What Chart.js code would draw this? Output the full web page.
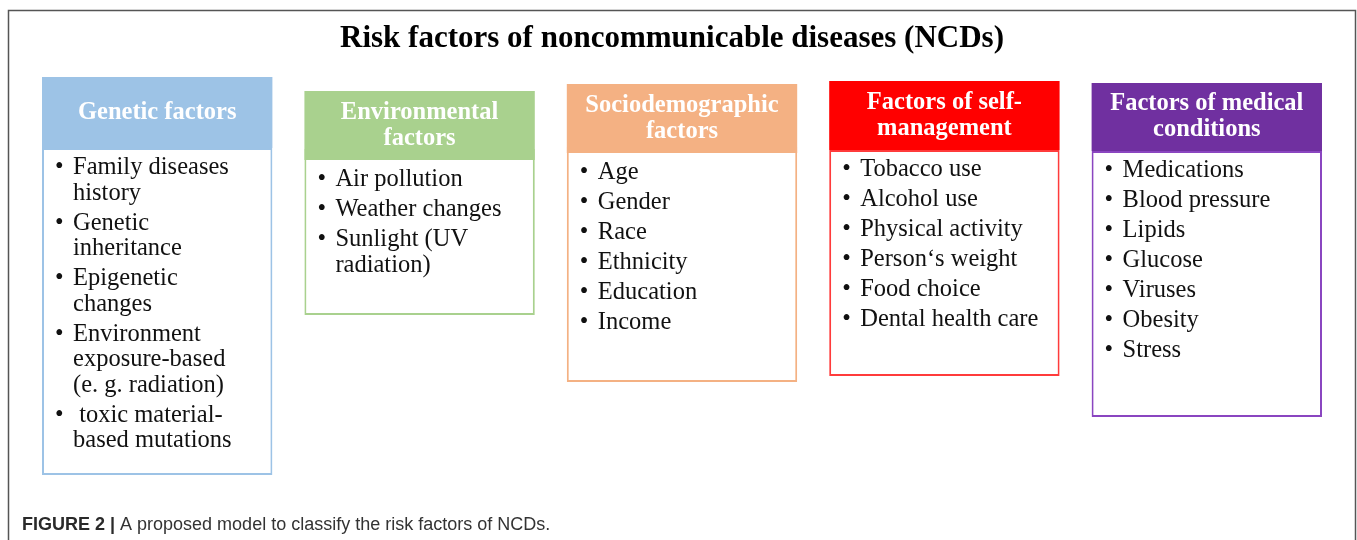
<!DOCTYPE html>
<html>
<head>
<meta charset="utf-8">
<script src="https://cdn.jsdelivr.net/npm/chart.js@4.4.1/dist/chart.umd.min.js"></script>
<style>
  html, body { margin: 0; padding: 0; background: #ffffff; }
  #wrap { width: 1357px; height: 540px; position: relative; }
  canvas { display: block; }
</style>
</head>
<body>
<div id="wrap"><canvas id="c" width="1357" height="540"></canvas></div>
<script>
// ---- Diagram content (data) ----
const titleText = 'Risk factors of noncommunicable diseases (NCDs)';
const captionBold = 'FIGURE 2 |';
const captionText = ' A proposed model to classify the risk factors of NCDs.';

const categories = ['Genetic factors', 'Environmental factors', 'Sociodemographic factors',
                    'Factors of self-management', 'Factors of medical conditions'];

const headerLines = [
  ['Genetic factors'],
  ['Environmental', 'factors'],
  ['Sociodemographic', 'factors'],
  ['Factors of self-', 'management'],
  ['Factors of medical', 'conditions']
];

const geneticItems = [
  ['Family diseases', 'history'],
  ['Genetic', 'inheritance'],
  ['Epigenetic', 'changes'],
  ['Environment', 'exposure-based', '(e. g. radiation)'],
  [' toxic material-', 'based mutations']
];
const environmentalItems = [
  ['Air pollution'],
  ['Weather changes'],
  ['Sunlight (UV', 'radiation)']
];
const sociodemographicItems = [
  ['Age'], ['Gender'], ['Race'], ['Ethnicity'], ['Education'], ['Income']
];
const selfManagementItems = [
  ['Tobacco use'], ['Alcohol use'], ['Physical activity'],
  ['Person\u2018s weight'], ['Food choice'], ['Dental health care']
];
const medicalItems = [
  ['Medications'], ['Blood pressure'], ['Lipids'], ['Glucose'],
  ['Viruses'], ['Obesity'], ['Stress']
];
const itemLists = [geneticItems, environmentalItems, sociodemographicItems,
                   selfManagementItems, medicalItems];

// vertical extents of the boxes, in diagram units (0 = top, 540 = bottom)
const headerTop    = [77, 91, 84, 81, 83];
const headerBottom = [148, 160, 153, 150, 151];
const bodyTop      = [148, 149, 147, 150, 151];
const bodyBottom   = [475, 315, 382, 376, 417];

// ---- Styles ----
const headerColors = ['#9dc3e6', '#a9d18e', '#f4b183', '#ff0000', '#7030a0'];
const bodyBorderColors = ['#9dc3e6', '#a9d18e', '#f4b183', '#ff3b3b', '#8a45c0'];

const SERIF = "'Liberation Serif', 'Times New Roman', serif";
const SANS = "'Liberation Sans', Arial, sans-serif";

const textPlugin = {
  id: 'diagramText',
  beforeDraw(chart) {
    const ctx = chart.ctx;
    ctx.save();
    ctx.fillStyle = '#ffffff';
    ctx.fillRect(0, 0, chart.width, chart.height);
    // outer frame
    ctx.strokeStyle = '#555555';
    ctx.lineWidth = 1.5;
    ctx.strokeRect(8.5, 10.5, 1347, 620);
    ctx.restore();
  },
  afterDatasetsDraw(chart) {
    const ctx = chart.ctx;
    const y = chart.scales.y;
    const headMeta = chart.getDatasetMeta(0);
    ctx.save();
    // title
    ctx.fillStyle = '#000000';
    ctx.font = "bold 31px " + SERIF;
    ctx.textAlign = 'center';
    ctx.textBaseline = 'middle';
    ctx.fillText(titleText, 672, y.getPixelForValue(39));

    headMeta.data.forEach((bar, i) => {
      const cx = bar.x;
      const left = bar.x - bar.width / 2;
      // header text
      const lines = headerLines[i];
      const midY = (y.getPixelForValue(headerTop[i]) + y.getPixelForValue(headerBottom[i])) / 2;
      const lh = 26;
      ctx.fillStyle = '#ffffff';
      ctx.font = "bold 24.5px " + SERIF;
      ctx.textAlign = 'center';
      ctx.textBaseline = 'middle';
      lines.forEach((ln, k) => {
        ctx.fillText(ln, cx, midY + (k - (lines.length - 1) / 2) * lh);
      });
      // items
      ctx.fillStyle = '#111111';
      ctx.font = "24.5px " + SERIF;
      ctx.textAlign = 'left';
      let ty = y.getPixelForValue(headerBottom[i]) + 20;
      itemLists[i].forEach((item, n) => {
        if (n > 0) ty += 30;
        ctx.fillText('\u2022', left + 13, ty);
        item.forEach((ln, k) => {
          if (k > 0) ty += 25.5;
          ctx.fillText(ln, left + 31, ty);
        });
      });
    });

    // caption
    ctx.textAlign = 'left';
    ctx.textBaseline = 'alphabetic';
    ctx.fillStyle = '#2a2a2a';
    ctx.font = "bold 18px " + SANS;
    ctx.fillText(captionBold, 22, 530);
    const w = ctx.measureText(captionBold).width;
    ctx.fillStyle = '#333333';
    ctx.font = "18px " + SANS;
    ctx.fillText(captionText, 22 + w, 530);
    ctx.restore();
  }
};

const headerData = categories.map((c, i) => [headerTop[i], headerBottom[i]]);
const bodyData = categories.map((c, i) => [bodyTop[i], bodyBottom[i]]);

new Chart(document.getElementById('c'), {
  type: 'bar',
  data: {
    labels: categories,
    datasets: [
      {
        label: 'header',
        data: headerData,
        backgroundColor: headerColors,
        borderColor: headerColors,
        borderWidth: 0,
        borderSkipped: false,
        grouped: false,
        order: 0,
        barPercentage: 0.878,
        categoryPercentage: 1
      },
      {
        label: 'body',
        data: bodyData,
        backgroundColor: '#ffffff',
        borderColor: bodyBorderColors,
        borderWidth: 2,
        borderSkipped: false,
        grouped: false,
        order: 1,
        barPercentage: 0.878,
        categoryPercentage: 1
      }
    ]
  },
  options: {
    responsive: false,
    animation: false,
    devicePixelRatio: 1,
    layout: { padding: { left: 26, right: 19, top: 0, bottom: 0 } },
    plugins: { legend: { display: false }, tooltip: { enabled: false }, title: { display: false } },
    scales: {
      x: { type: 'category', display: false, offset: true, grid: { display: false } },
      y: { type: 'linear', display: false, reverse: true, min: 0, max: 540, grid: { display: false } }
    }
  },
  plugins: [textPlugin]
});
</script>
</body>
</html>
